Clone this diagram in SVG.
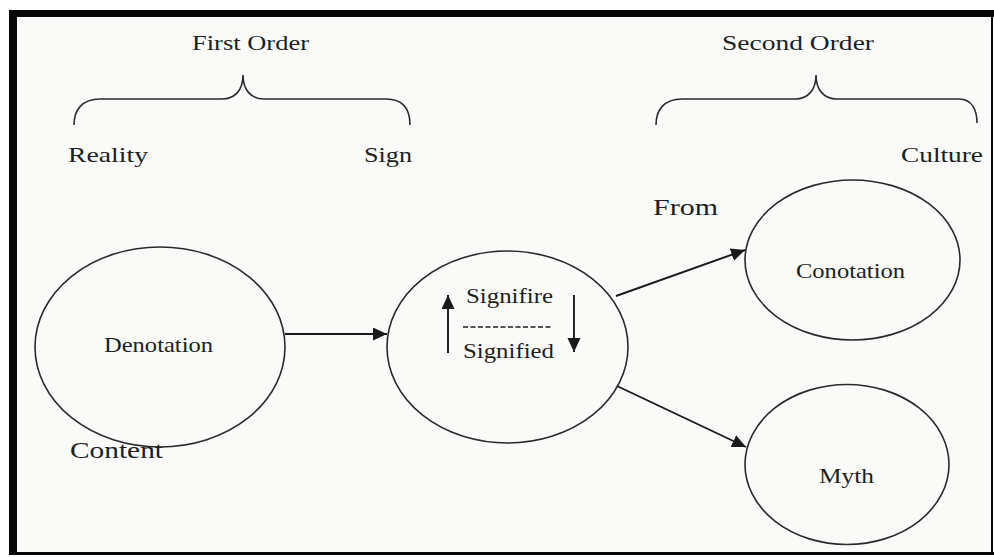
<svg xmlns="http://www.w3.org/2000/svg" width="994" height="557" viewBox="0 0 994 557">
<style>
  .t { font-family: "Liberation Serif", "Times New Roman", serif; fill: #1e1e1e; font-size: 21px; }
  .big { font-size: 23px; }
  .sm { font-size: 20px; }
  .node { fill: none; stroke: #2a2a2a; stroke-width: 1.6; }
  .edge { fill: none; stroke: #1a1a1a; stroke-width: 1.9; }
  .brace { fill: none; stroke: #2a2a2a; stroke-width: 1.6; }
</style>
<defs>
  <marker id="ah" markerUnits="userSpaceOnUse" markerWidth="16" markerHeight="14" refX="14" refY="6.5" orient="auto">
    <path d="M0,0 L14,6.5 L0,13 Z" fill="#1a1a1a"/>
  </marker>
</defs>
<rect x="0" y="0" width="994" height="557" fill="#ffffff"/>
<rect x="17" y="17" width="975" height="535" fill="#fafaf8"/>
<g id="frame" fill="#080808">
  <rect x="9" y="10" width="8" height="545"/>
  <rect x="9" y="10" width="985" height="7"/>
  <rect x="9" y="552" width="985" height="3"/>
  <rect x="991" y="10" width="2" height="545"/>
</g>
<g id="first-order">
  <text class="t" x="192" y="50" textLength="117" lengthAdjust="spacingAndGlyphs">First Order</text>
  <path class="brace" d="M74,125 C74,110 82,99 100,99 L222,99 C235,99 243,90 243,75 C243,90 251,99 264,99 L386,99 C404,99 410,110 410,125"/>
  <text class="t" x="68" y="162" textLength="80" lengthAdjust="spacingAndGlyphs">Reality</text>
  <text class="t" x="364" y="162" textLength="48" lengthAdjust="spacingAndGlyphs">Sign</text>
</g>
<g id="second-order">
  <text class="t" x="722" y="50" textLength="152" lengthAdjust="spacingAndGlyphs">Second Order</text>
  <path class="brace" d="M656,125 C656,110 664,99 682,99 L795,99 C808,99 816,90 816,75 C816,90 824,99 837,99 L959,99 C972,99 977,110 977,123"/>
  <text class="t" x="901" y="162" textLength="82" lengthAdjust="spacingAndGlyphs">Culture</text>
</g>
<text id="from" class="t big" x="653" y="215" textLength="65" lengthAdjust="spacingAndGlyphs">From</text>
<g id="denotation">
  <ellipse class="node" cx="160" cy="347" rx="125" ry="100"/>
  <text class="t" x="104" y="352" textLength="109" lengthAdjust="spacingAndGlyphs">Denotation</text>
</g>
<text id="content" class="t big" x="70" y="458" textLength="93" lengthAdjust="spacingAndGlyphs">Content</text>
<g id="sign">
  <ellipse class="node" cx="507.5" cy="347" rx="120.5" ry="96"/>
  <text class="t sm" x="466" y="303" textLength="87" lengthAdjust="spacingAndGlyphs">Signifire</text>
  <line x1="463" y1="327" x2="553" y2="327" stroke="#1e1e1e" stroke-width="1.4" stroke-dasharray="5,2.5"/>
  <text class="t sm" x="463" y="358" textLength="91" lengthAdjust="spacingAndGlyphs">Signified</text>
  <line class="edge" x1="448" y1="353" x2="448" y2="295" marker-end="url(#ah)"/>
  <line class="edge" x1="574" y1="295" x2="574" y2="352" marker-end="url(#ah)"/>
</g>
<g id="conotation">
  <ellipse class="node" cx="852.5" cy="260" rx="107.5" ry="80"/>
  <text class="t" x="796" y="278" textLength="109" lengthAdjust="spacingAndGlyphs">Conotation</text>
</g>
<g id="myth">
  <ellipse class="node" cx="847" cy="464.5" rx="102" ry="80"/>
  <text class="t" x="819" y="483" textLength="55" lengthAdjust="spacingAndGlyphs">Myth</text>
</g>
<g id="connectors">
  <line class="edge" x1="285" y1="334" x2="387" y2="334" marker-end="url(#ah)"/>
  <line class="edge" x1="616" y1="296" x2="745" y2="250" marker-end="url(#ah)"/>
  <line class="edge" x1="617" y1="386" x2="746" y2="447" marker-end="url(#ah)"/>
</g>
</svg>
